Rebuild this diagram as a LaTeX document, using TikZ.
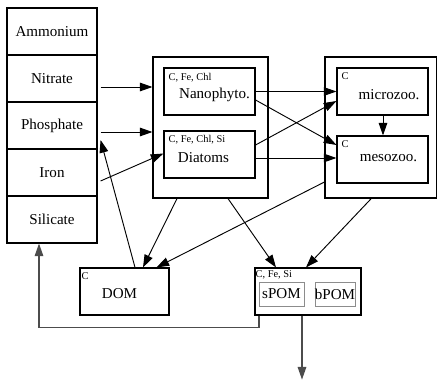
\documentclass[tikz,border=0pt]{standalone}
\usepackage{fontspec}
\setmainfont{Liberation Serif}
\usetikzlibrary{arrows.meta,calc}
\tikzset{
  box/.style={draw=black, line width=0.85pt, minimum width=#1, inner sep=0pt},
  nutrient/.style={box=67.5pt, minimum height=35.25pt, font=\fontsize{11.3}{13}\selectfont},
  lbl/.style={inner sep=0pt, font=\fontsize{11.3}{13}\selectfont},
  tag/.style={inner sep=0pt, anchor=base west, font=\fontsize{7.8}{9}\selectfont},
  subbox/.style={draw=black!45, line width=0.6pt, minimum height=18pt, inner sep=0pt, font=\fontsize{11.3}{13}\selectfont},
  flow/.style={draw=black, line width=0.7pt, -{Triangle[length=9.5pt,width=6.5pt]}},
  greyflow/.style={draw=black!70, line width=0.8pt, -{Triangle[length=9.5pt,width=6.5pt]}}
}
\begin{document}
\begin{tikzpicture}[x=0.75pt, y=-0.75pt]
\useasboundingbox (0,0) rectangle (437,381);

% nutrient column
\node[nutrient] (ammonium)  at (52,31.5)  {Ammonium};
\node[nutrient] (nitrate)   at (52,78.5)  {Nitrate};
\node[nutrient] (phosphate) at (52,125.5) {Phosphate};
\node[nutrient] (iron)      at (52,172.5) {Iron};
\node[nutrient] (silicate)  at (52,219.5) {Silicate};

% phytoplankton group
\node[box=86.25pt, minimum height=105.75pt] (phyto) at (210.5,127.5) {};
\node[box=68.25pt, minimum height=35.25pt] (nano) at (209.5,91.5) {};
\node[box=68.25pt, minimum height=35.25pt] (diatoms) at (209.5,154.5) {};
\node[lbl] (nanolbl) at (214.5,95) {Nanophyto.};
\node[lbl] (diatlbl) at (203.5,158) {Diatoms};
\node[tag] (nanotag) at ($(nano.north west)+(5,13.5)$) {C, Fe, Chl};
\node[tag] (diattag) at ($(diatoms.north west)+(5,12.5)$) {C, Fe, Chl, Si};

% zooplankton group
\node[box=83.6pt, minimum height=105.75pt] (zoo) at (380.75,127.5) {};
\node[box=68.25pt, minimum height=35.25pt] (micro) at (382.5,91.5) {};
\node[box=68.25pt, minimum height=35.25pt] (meso) at (382.5,159.5) {};
\node[lbl] (microlbl) at (389,95) {microzoo.};
\node[lbl] (mesolbl) at (388.5,158) {mesozoo.};
\node[tag] (microtag) at ($(micro.north west)+(5,12)$) {C};
\node[tag] (mesotag) at ($(meso.north west)+(5,12)$) {C};

% organic matter
\node[box=66.75pt, minimum height=35.25pt] (dom) at (124.5,291.5) {};
\node[lbl] (domlbl) at (119.5,294) {DOM};
\node[tag] (domtag) at ($(dom.north west)+(2,12)$) {C};
\node[box=79.5pt, minimum height=35.25pt] (pom) at (308,291.5) {};
\node[tag] (pomtag) at ($(pom.north west)+(1,10)$) {C, Fe, Si};
\node[subbox, minimum width=33.75pt] (spom) at (281.5,294) {sPOM};
\node[subbox, minimum width=30pt] (bpom) at (335,294) {bPOM};

% uptake by phytoplankton
\coordinate (nitout) at ($(nitrate.east)+(3,8.5)$);
\draw[flow] (nitout) -- (nitout -| phyto.west);
\coordinate (phosout) at ($(phosphate.east)+(3,6.5)$);
\draw[flow] (phosout) -- (phosout -| phyto.west);
\draw[flow] ($(iron.east)+(3,8.5)$) -- ($(diatoms.west)+(0,-1)$);

% remineralisation
\draw[flow] ($(dom.north)+(10.5,0)$) -- ($(phosphate.east)+(3,14.5)$);

% grazing
\draw[flow] (nano.east) -- (micro.west);
\draw[flow] ($(nano.east)+(0,8.5)$) -- ($(meso.west)+(0,-14.5)$);
\draw[flow] ($(diatoms.east)+(0,-9.5)$) -- ($(micro.west)+(0,9.5)$);
\coordinate (diatout) at ($(diatoms.east)+(0,3.5)$);
\draw[flow] (diatout) -- (diatout -| meso.west);
\draw[flow] ($(micro.south)+(0.5,0)$) -- ($(meso.north)+(0.5,0)$);

% losses to organic matter
\draw[flow] ($(phyto.south)+(-33.5,0)$) -- ($(dom.north)+(18.5,0)$);
\draw[flow] ($(zoo.west)+(0,54.5)$) -- ($(dom.north)+(32,0)$);
\draw[flow] ($(phyto.south)+(17.5,0)$) -- ($(pom.north)+(-32,0)$);
\draw[flow] ($(zoo.south)+(-9.5,0)$) -- ($(pom.north)+(-2,0)$);

% sinking export and silicate return
\coordinate (sink) at ($(pom.south)+(-6,64)$);
\draw[greyflow] ($(pom.south)+(-6,0)$) -- (sink);
\draw[greyflow] ($(pom.south)+(-49,0)$) -- ++(0,12) -| ($(silicate.south)+(-13,0)$);
\end{tikzpicture}
\end{document}
